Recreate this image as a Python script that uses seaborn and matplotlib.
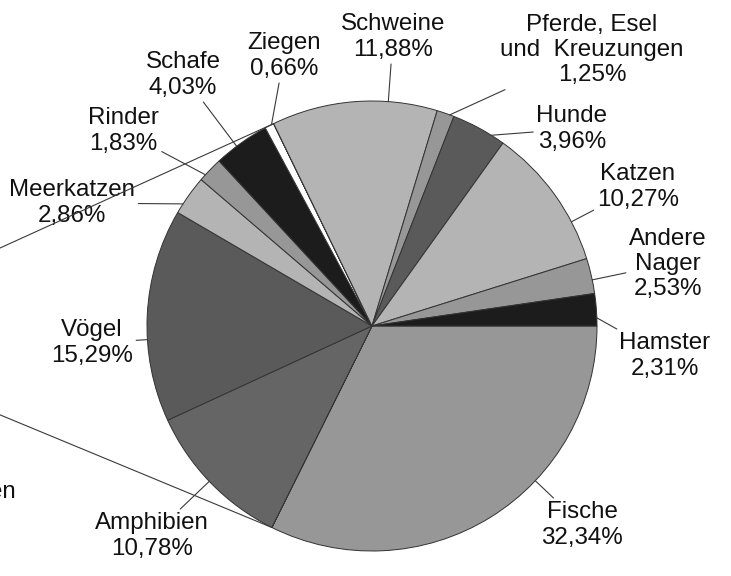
import numpy as np
import matplotlib
matplotlib.use("Agg")
import matplotlib.pyplot as plt
import seaborn as sns

# Anteile der Tierarten (im Uhrzeigersinn ab 3 Uhr)
tierarten = ["Fische", "Reptilien", "Amphibien", "Vögel", "Meerkatzen", "Rinder",
             "Schafe", "Ziegen", "Andere\nSäugetiere", "Schweine",
             "Pferde, Esel\nund  Kreuzungen", "Hunde", "Katzen", "Andere\nNager", "Hamster"]
anteile = [32.34, 0.004, 10.78, 15.29, 2.86, 1.83,
           4.03, 0.66, 0.006, 11.88,
           1.25, 3.96, 10.27, 2.53, 2.31]
farben = ["#979797", "#ffffff", "#656565", "#5a5a5a", "#b4b4b4", "#979797",
          "#1c1c1c", "#ffffff", "#ffffff", "#b4b4b4",
          "#979797", "#5a5a5a", "#b4b4b4", "#979797", "#1c1c1c"]

# Position der Beschriftungen in Pixeln (Bild ist ein Ausschnitt, manche liegen außerhalb)
label_pos = [(582, 525), (-31, 505), (152, 536), (92, 343), (72, 203), (123, 131),
             (183, 75), (284, 56), (-330, 398), (393, 37),
             (592, 50), (572, 129), (638, 187), (668, 264), (665, 356)]
leader_end = {1: (-200, 332)}

W, H = 731, 576
cx, cy, r = 372, 326, 225


def px2d(x, y):
    return ((x - cx) / r, (cy - y) / r)


sns.set_theme(style="white")
plt.rcParams["font.family"] = ["Liberation Sans", "DejaVu Sans"]

fig = plt.figure(figsize=(W / 100, H / 100), dpi=100)
ax = fig.add_axes([0, 0, 1, 1])

wedges, _ = ax.pie(anteile, colors=farben, startangle=0, counterclock=False,
                   radius=1, normalize=True,
                   wedgeprops=dict(edgecolor="#333333", linewidth=0.7))

ax.set_xlim(-cx / r, (W - cx) / r)
ax.set_ylim(-(H - cy) / r, cy / r)
ax.set_aspect("equal", adjustable="datalim")
ax.axis("off")

linie = dict(arrowstyle="-", color="#3a3a3a", lw=0.8, shrinkA=0, shrinkB=0)

for i, w in enumerate(wedges):
    name = tierarten[i]
    txt = "{}\n{:.2f}%".format(name, anteile[i]).replace(".", ",")
    tx, ty = px2d(*label_pos[i])
    # Ankerpunkt auf dem Rand, Richtung Beschriftung, innerhalb des Segments
    t1, t2 = w.theta1, w.theta2
    breite = t2 - t1
    ziel = leader_end.get(i, label_pos[i])
    zx, zy = px2d(*ziel)
    ang = np.degrees(np.arctan2(zy, zx))
    mitte = 0.5 * (t1 + t2)
    ang = ang + 360 * np.round((mitte - ang) / 360)
    ang = np.clip(ang, t1 + 0.25 * breite, t2 - 0.25 * breite)
    axy = (np.cos(np.radians(ang)), np.sin(np.radians(ang)))

    if i in leader_end:
        ax.annotate("", xy=axy, xytext=(zx, zy), arrowprops=linie,
                    annotation_clip=False)
        ax.text(tx, ty, txt, ha="center", va="center", fontsize=17.4,
                color="#111111", multialignment="left", linespacing=1.2)
    else:
        ax.annotate(txt, xy=axy, xytext=(tx, ty), ha="center", va="center",
                    fontsize=17.4, color="#111111", multialignment="center",
                    linespacing=1.2, arrowprops=linie, annotation_clip=False)

fig.savefig("out.png", dpi=100)
